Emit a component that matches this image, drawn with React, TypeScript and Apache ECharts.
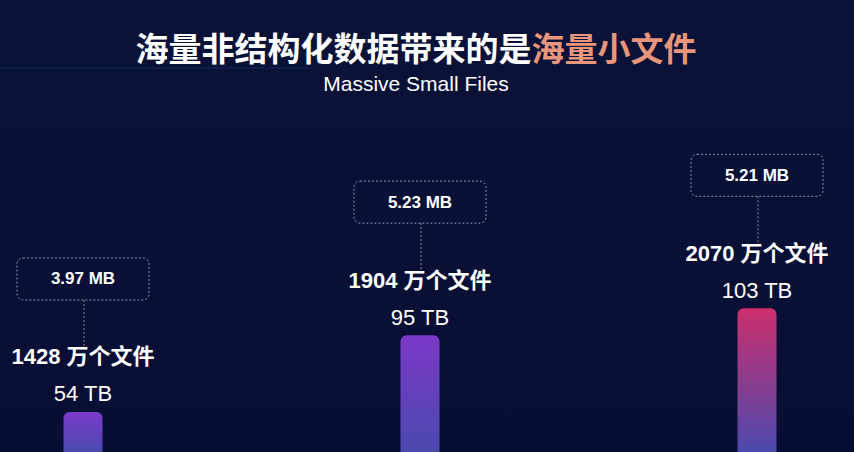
import React, { useEffect, useRef } from "react";
import * as echarts from "echarts";

const categories = ["A", "B", "C"];
const fileCounts = [1428, 1904, 2070]; // 万个文件
const sizesTB = [54, 95, 103];
const avgSizesMB = ["3.97", "5.23", "5.21"];
const titleMain = "海量非结构化数据带来的是";
const titleAccent = "海量小文件";
const subtitle = "Massive Small Files";

const barColors = [
  ["#7b3acb", "#4b4aae"],
  ["#7b38c8", "#4b4aae"],
  ["#cb2f6c", "#4b4aae"],
];

const LATIN = '"Liberation Sans", "Noto Sans CJK SC", sans-serif';
const CJK = '"Noto Sans CJK SC", "Liberation Sans", sans-serif';

export default function App() {
  const ref = useRef<HTMLDivElement>(null);
  useEffect(() => {
    if (!ref.current) return;
    const chart = echarts.init(ref.current, null, { renderer: "svg" });
    chart.setOption({
      animation: false,
      backgroundColor: new echarts.graphic.LinearGradient(0, 0, 0, 1, [
        { offset: 0, color: "#0a1238" },
        { offset: 1, color: "#080d33" },
      ]),
      graphic: [
        {
          type: "rect",
          shape: { x: 0, y: 67, width: 310, height: 2 },
          style: { fill: "rgba(60,120,200,0.12)" },
          silent: true,
        },
        {
          type: "text",
          x: 416,
          y: 47,
          style: {
            text: `{w|${titleMain}}{o|${titleAccent}}`,
            textAlign: "center",
            textVerticalAlign: "middle",
            rich: {
              w: { fill: "#ffffff", fontSize: 33, fontWeight: "bold", fontFamily: CJK },
              o: { fill: "#e9957c", fontSize: 33, fontWeight: "bold", fontFamily: CJK },
            },
          },
        },
        {
          type: "text",
          x: 416,
          y: 83,
          style: {
            text: subtitle,
            fill: "#ffffff",
            fontSize: 21,
            fontFamily: LATIN,
            textAlign: "center",
            textVerticalAlign: "middle",
          },
        },
      ],
      grid: { left: 83, right: 97, top: 0, bottom: 0 },
      xAxis: {
        type: "category",
        data: categories,
        boundaryGap: false,
        show: false,
      },
      yAxis: {
        type: "value",
        min: 1180,
        max: 3980,
        show: false,
        splitLine: { show: false },
      },
      series: [
        {
          type: "bar",
          barWidth: 39,
          data: fileCounts.map((v, i) => ({
            value: v,
            itemStyle: {
              borderRadius: [6, 6, 0, 0],
              color: new echarts.graphic.LinearGradient(0, 0, 0, 1, [
                { offset: 0, color: barColors[i][0] },
                { offset: 1, color: barColors[i][1] },
              ]),
            },
          })),
        },
        {
          type: "custom",
          clip: false,
          silent: true,
          data: fileCounts.map((v, i) => [i, v]),
          renderItem: (params: any, api: any) => {
            const i = params.dataIndex;
            const [x, yTop] = api.coord([api.value(0), api.value(1)]);
            const boxW = 132;
            const boxH = 42;
            const boxTop = yTop - 154;
            return {
              type: "group",
              children: [
                {
                  type: "rect",
                  shape: { x: x - boxW / 2, y: boxTop, width: boxW, height: boxH, r: 6 },
                  style: {
                    fill: "rgba(0,0,0,0)",
                    stroke: "rgba(255,255,255,0.55)",
                    lineWidth: 1,
                    lineDash: [2, 2],
                  },
                },
                {
                  type: "line",
                  shape: { x1: x + 1, y1: boxTop + boxH, x2: x + 1, y2: yTop - 66 },
                  style: {
                    stroke: "rgba(255,255,255,0.5)",
                    lineWidth: 1,
                    lineDash: [2, 2],
                  },
                },
                {
                  type: "text",
                  x: x,
                  y: boxTop + boxH / 2,
                  style: {
                    text: `${avgSizesMB[i]} MB`,
                    fill: "#ffffff",
                    fontSize: 17,
                    fontWeight: "bold",
                    fontFamily: LATIN,
                    textAlign: "center",
                    textVerticalAlign: "middle",
                  },
                },
                {
                  type: "text",
                  x: x,
                  y: yTop - 55,
                  style: {
                    text: `${fileCounts[i]} 万个文件`,
                    fill: "#ffffff",
                    fontSize: 22,
                    fontWeight: "bold",
                    fontFamily: LATIN,
                    textAlign: "center",
                    textVerticalAlign: "middle",
                  },
                },
                {
                  type: "text",
                  x: x,
                  y: yTop - 18,
                  style: {
                    text: `${sizesTB[i]} TB`,
                    fill: "#ffffff",
                    fontSize: 22,
                    fontFamily: LATIN,
                    textAlign: "center",
                    textVerticalAlign: "middle",
                  },
                },
              ],
            };
          },
        },
      ],
    });
    return () => chart.dispose();
  }, []);
  return (
    <div
      ref={ref}
      style={{ position: "fixed", left: 0, top: 0, width: 854, height: 452 }}
    />
  );
}
